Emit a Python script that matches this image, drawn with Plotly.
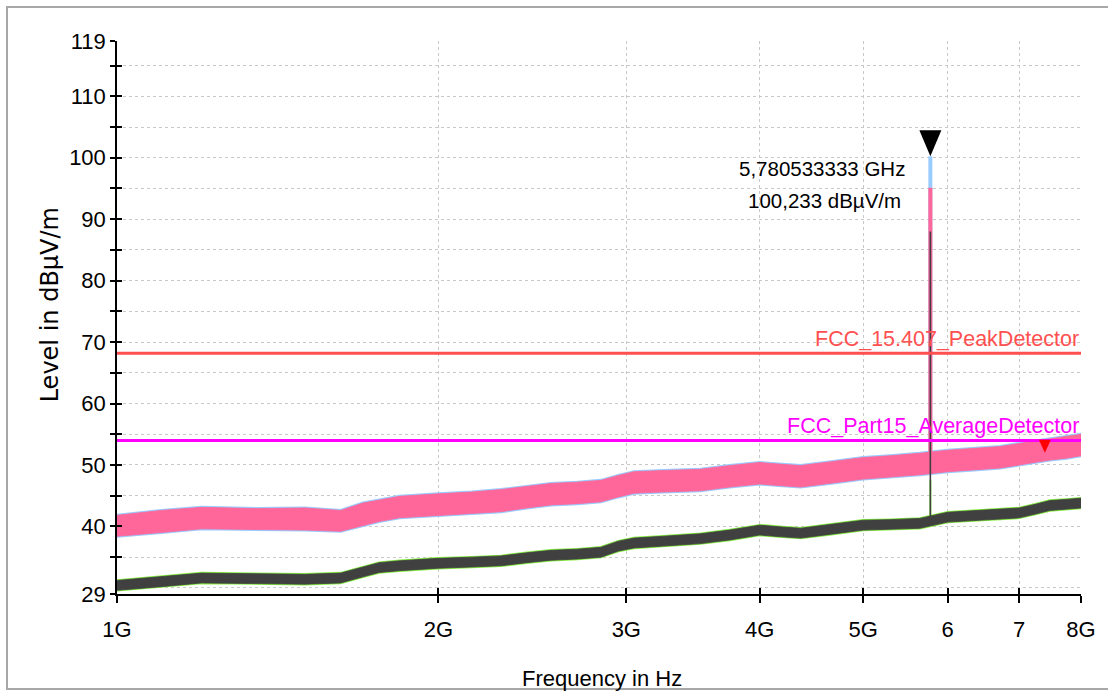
import math
import plotly.graph_objects as go

# ---------------- data ----------------
freq_ghz = [1.00, 1.10, 1.20, 1.35, 1.50, 1.62, 1.70, 1.76, 1.84, 2.00, 2.15, 2.29,
            2.42, 2.55, 2.70, 2.84, 2.95, 3.05, 3.25, 3.52, 3.75, 4.00, 4.20, 4.37,
            4.65, 5.00, 5.30, 5.65, 6.00, 6.35, 6.72, 7.00, 7.25, 7.48, 7.75, 8.00]

# peak detector trace (pink, light-blue underneath) - upper / lower envelope in dBµV/m
pk_hi = [41.8, 42.6, 43.1, 42.9, 43.0, 42.6, 43.8, 44.3, 44.9, 45.3, 45.6, 46.0,
         46.5, 47.0, 47.2, 47.5, 48.3, 48.9, 49.1, 49.3, 49.9, 50.4, 50.1, 49.9,
         50.5, 51.2, 51.5, 51.9, 52.4, 52.7, 53.0, 53.5, 53.9, 54.3, 54.6, 55.0]
pk_lo = [38.4, 39.0, 39.6, 39.5, 39.4, 39.2, 40.1, 40.8, 41.4, 41.8, 42.1, 42.4,
         43.0, 43.5, 43.7, 44.0, 44.8, 45.4, 45.6, 45.8, 46.4, 46.9, 46.6, 46.4,
         47.0, 47.7, 48.0, 48.4, 48.9, 49.2, 49.5, 50.0, 50.4, 50.8, 51.1, 51.5]

# average detector trace (dark grey, green underneath)
av_hi = [31.2, 31.8, 32.4, 32.3, 32.2, 32.4, 33.4, 34.1, 34.4, 34.8, 35.0, 35.2,
         35.7, 36.1, 36.3, 36.6, 37.6, 38.1, 38.4, 38.8, 39.4, 40.2, 39.9, 39.7,
         40.3, 41.0, 41.1, 41.3, 42.3, 42.6, 42.8, 43.0, 43.6, 44.2, 44.4, 44.6]
av_lo = [29.6, 30.2, 30.8, 30.7, 30.6, 30.8, 31.8, 32.5, 32.8, 33.2, 33.4, 33.6,
         34.1, 34.5, 34.7, 35.0, 36.0, 36.5, 36.8, 37.2, 37.8, 38.6, 38.3, 38.1,
         38.7, 39.4, 39.5, 39.7, 40.7, 41.0, 41.2, 41.4, 42.0, 42.6, 42.8, 43.0]

# spike at the carrier
peak_ghz = 5.780533333
peak_level = 100.233
spike_names = ["blue", "pink", "green", "dark"]
spike_top = [100.233, 95.1, 47.5, 88.0]
spike_base = [50.0, 50.0, 40.5, 40.5]

# limit lines
limit_names = ["FCC_15.407_PeakDetector", "FCC_Part15_AverageDetector"]
limit_levels = [68.2, 54.0]

# second (red) marker
marker2_ghz = 7.40
marker2_level = 52.0

# axes
x_tick_ghz = [1, 2, 3, 4, 5, 6, 7, 8]
x_tick_text = ["1G", "2G", "3G", "4G", "5G", "6", "7", "8G"]
y_tick_vals = [29, 35, 40, 45, 50, 55, 60, 65, 70, 75, 80, 85, 90, 95, 100, 105, 110, 115, 119]
y_tick_text = ["29", "", "40", "", "50", "", "60", "", "70", "", "80", "", "90", "", "100", "", "110", "", "119"]
y_min, y_max = 29, 119

# ---------------- styling ----------------
FONT = "Liberation Sans, Arial, sans-serif"
C_PINK = "#FF6699"
C_BLUE = "#99CCFF"
C_DARK = "#404040"
C_GREEN = "#88EE44"
C_RED = "#FF5050"
C_MAG = "#FF00FF"
GRID = "#C8C8C8"

GHZ = 1e9
fx = [f * GHZ for f in freq_ghz]
fig = go.Figure()


def band(hi, lo, fill, edge, edge_w):
    fig.add_trace(go.Scatter(
        x=fx + fx[::-1], y=hi + lo[::-1], fill="toself", fillcolor=fill,
        mode="lines", line=dict(color=edge, width=edge_w),
        hoverinfo="skip", showlegend=False))


spike_col = {"blue": (C_BLUE, 4), "pink": (C_PINK, 4), "green": (C_GREEN, 2), "dark": (C_DARK, 1.6)}


def spike(name):
    i = spike_names.index(name)
    col, w = spike_col[name]
    fig.add_trace(go.Scatter(
        x=[peak_ghz * GHZ, peak_ghz * GHZ], y=[spike_base[i], spike_top[i]],
        mode="lines", line=dict(color=col, width=w), hoverinfo="skip", showlegend=False))


# light-blue trace under pink
band(pk_hi, pk_lo, C_BLUE, C_BLUE, 3)
spike("blue")
# green under dark grey
band(av_hi, av_lo, C_GREEN, C_GREEN, 2.5)
spike("green")
# pink
band(pk_hi, pk_lo, C_PINK, C_PINK, 0.8)
spike("pink")
# dark grey
band(av_hi, av_lo, C_DARK, C_DARK, 0.8)
spike("dark")

# limit lines (on overlay axes that carry the inner half of the tick marks)
for name, lvl, col in zip(limit_names, limit_levels, [C_RED, C_MAG]):
    fig.add_trace(go.Scatter(
        x=[freq_ghz[0] * GHZ, freq_ghz[-1] * GHZ], y=[lvl, lvl], mode="lines",
        line=dict(color=col, width=3), xaxis="x2", yaxis="y2",
        hoverinfo="skip", showlegend=False))

xr = [math.log10(freq_ghz[0] * GHZ), math.log10(freq_ghz[-1] * GHZ)]
tickvals_x = [t * GHZ for t in x_tick_ghz]

fig.update_layout(
    width=1108, height=691,
    margin=dict(l=117, r=27, t=41, b=97),
    paper_bgcolor="white", plot_bgcolor="white",
    showlegend=False,
    xaxis=dict(
        type="log", range=xr, tickmode="array", tickvals=tickvals_x, ticktext=x_tick_text,
        ticks="outside", ticklen=7, tickwidth=1.5, tickcolor="black",
        showline=True, linecolor="black", linewidth=1.5, mirror=False,
        showgrid=True, gridcolor=GRID, griddash="dot", gridwidth=1, zeroline=False,
        tickfont=dict(family=FONT, size=22, color="black"), ticklabelstandoff=8,
    ),
    yaxis=dict(
        range=[y_min, y_max], tickmode="array", tickvals=y_tick_vals, ticktext=y_tick_text,
        ticks="outside", ticklen=5, tickwidth=1.5, tickcolor="black",
        showline=True, linecolor="black", linewidth=1.5,
        showgrid=True, gridcolor=GRID, griddash="dot", gridwidth=1, zeroline=False,
        tickfont=dict(family=FONT, size=22, color="black"),
        minor=dict(tickvals=[30], showgrid=True, gridcolor=GRID, griddash="dot", ticks=""),
    ),
    xaxis2=dict(
        type="log", range=xr, overlaying="x", anchor="y2", side="bottom",
        tickmode="array", tickvals=tickvals_x, ticks="inside", ticklen=6, tickwidth=1.5,
        tickcolor="black", showticklabels=False, showgrid=False, showline=False, zeroline=False,
    ),
    yaxis2=dict(
        range=[y_min, y_max], overlaying="y", anchor="x2", side="left",
        tickmode="array", tickvals=y_tick_vals, ticks="inside", ticklen=5, tickwidth=1.5,
        tickcolor="black", showticklabels=False, showgrid=False, showline=False, zeroline=False,
    ),
)

annotations = []
# axis titles
annotations.append(dict(text="Frequency in Hz", xref="paper", yref="paper", x=0.503, y=-0.152,
                        xanchor="center", yanchor="middle", showarrow=False,
                        font=dict(family=FONT, size=22, color="black")))
annotations.append(dict(text="Level in dBµV/m", xref="paper", yref="paper", x=-0.0695, y=0.522,
                        xanchor="center", yanchor="middle", textangle=-90, showarrow=False,
                        font=dict(family="DejaVu Sans, sans-serif", size=24, color="black")))
# limit labels
for name, lvl, col in zip(limit_names, limit_levels, [C_RED, C_MAG]):
    annotations.append(dict(text=name, xref="paper", yref="y", x=1.0, y=lvl,
                            xanchor="right", yanchor="middle", yshift=14, showarrow=False,
                            font=dict(family=FONT, size=21.5, color=col)))
# marker readout
px = math.log10(peak_ghz * GHZ)
txt_f = f"{peak_ghz:.9f}".replace(".", ",") + " GHz"
txt_l = f"{peak_level:.3f}".replace(".", ",") + " dBµV/m"
annotations.append(dict(text=txt_f, xref="x", yref="y", x=px, y=peak_level, xshift=-108, yshift=-12,
                        xanchor="center", yanchor="middle", showarrow=False,
                        font=dict(family=FONT, size=20.5, color="black")))
annotations.append(dict(text=txt_l, xref="x", yref="y", x=px, y=peak_level, xshift=-106, yshift=-44,
                        xanchor="center", yanchor="middle", showarrow=False,
                        font=dict(family=FONT, size=20.5, color="black")))
fig.update_layout(annotations=annotations)

shapes = []
# black marker triangle (tip on the peak)
shapes.append(dict(type="path", xref="x", yref="y", xsizemode="pixel", ysizemode="pixel",
                   xanchor=peak_ghz * GHZ, yanchor=peak_level,
                   path="M -11,26 L 11,26 L 0,0 Z", fillcolor="black", line=dict(width=0)))
# red marker triangle
shapes.append(dict(type="path", xref="x", yref="y", xsizemode="pixel", ysizemode="pixel",
                   xanchor=marker2_ghz * GHZ, yanchor=marker2_level,
                   path="M -6,13 L 6,13 L 0,0 Z", fillcolor="#FF0000", line=dict(width=0)))
# outer frame
shapes.append(dict(type="rect", xref="paper", yref="paper",
                   x0=(7 - 117) / 964, x1=(1120 - 117) / 964,
                   y0=(594 - 689) / 553, y1=(594 - 7) / 553,
                   line=dict(color="#A8A8A8", width=2), fillcolor="rgba(0,0,0,0)", layer="below"))
fig.update_layout(shapes=shapes)

fig.write_html("out.html", config={"displayModeBar": False},
               post_script="document.body.style.margin='0';document.body.style.overflow='hidden';")
